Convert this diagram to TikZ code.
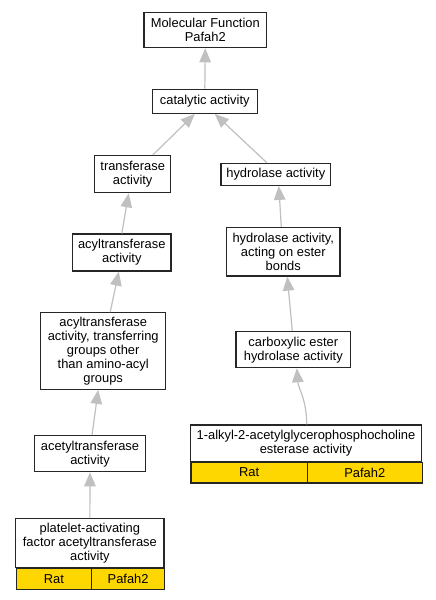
\documentclass[tikz,border=0pt]{standalone}
\usepackage{fontspec}
\setmainfont{Liberation Sans}
\usetikzlibrary{arrows.meta}
\definecolor{gold}{HTML}{FFD700}
\definecolor{edgegray}{HTML}{C0C0C0}
\tikzset{
  box/.style={draw=black!85, line width=1.2pt, fill=white, inner sep=0pt, align=center,
    font=\fontsize{12.9}{14}\selectfont},
  cell/.style={draw=black!85, line width=1.2pt, fill=gold, inner sep=0pt, align=center,
    anchor=north west, font=\fontsize{12.9}{14}\selectfont},
  edge/.style={draw=edgegray, line width=1.2pt, -{Triangle[length=14pt,width=11.5pt]}, edgegray}
}
\begin{document}
\begin{tikzpicture}[x=1pt,y=-1pt]
\useasboundingbox[fill=white] (0,0) rectangle (436,600);
\node[box, minimum width=122.7pt, minimum height=35.4pt] (mf) at (205.3,30) {Molecular Function\\Pafah2};
\node[box, minimum width=105pt, minimum height=24pt] (cat) at (204.8,101.3) {catalytic activity};
\node[box, minimum width=76pt, minimum height=37pt] (trans) at (132.7,174.2) {transferase\\activity};
\node[box, minimum width=109.7pt, minimum height=22pt] (hyd) at (275.8,174.3) {hydrolase activity};
\node[box, minimum width=98.3pt, minimum height=37pt] (acyl) at (121.8,252.5) {acyltransferase\\activity};
\node[box, minimum width=113.3pt, minimum height=48.7pt] (ester) at (283.3,251.7) {hydrolase activity,\\acting on ester\\bonds};
\node[box, minimum width=125pt, minimum height=76.6pt] (acyltr) at (103.2,351) {acyltransferase\\activity, transferring\\groups other\\than amino-acyl\\groups};
\node[box, minimum width=114.7pt, minimum height=36pt] (carb) at (293.3,349.7) {carboxylic ester\\hydrolase activity};
\node[box, minimum width=110.6pt, minimum height=36pt] (acet) at (90,453.7) {acetyltransferase\\activity};
% 1-alkyl node
\node[box, minimum width=231.4pt, minimum height=36.7pt] (alk) at (306,443.35) {1-alkyl-2-acetylglycerophosphocholine\\esterase activity};
\node[cell, minimum width=116.4pt, minimum height=20.6pt] (alkrat) at (190.3,461.7) {Rat};
\node[cell, minimum width=115pt, minimum height=20.6pt] (alkgene) at (306.7,461.7) {Pafah2};
% platelet node
\node[box, minimum width=148.3pt, minimum height=49pt] (plat) at (89.85,543.2) {platelet-activating\\factor acetyltransferase\\activity};
\node[cell, minimum width=75.3pt, minimum height=21.3pt] (platrat) at (15.7,567.7) {Rat};
\node[cell, minimum width=73pt, minimum height=21.3pt] (platgene) at (91,567.7) {Pafah2};
% edges
\draw[edge] (cat.north) -- (mf.south);
\draw[edge] ([xshift=20pt]trans.north) -- ([xshift=-10pt]cat.south);
\draw[edge] ([xshift=-9pt]hyd.north) -- ([xshift=10pt]cat.south);
\draw[edge] (acyl.north) -- ([xshift=-4pt]trans.south);
\draw[edge] ([xshift=-2pt]ester.north) -- ([xshift=3pt]hyd.south);
\draw[edge] ([xshift=7pt]acyltr.north) -- ([xshift=-3pt]acyl.south);
\draw[edge] ([xshift=-1pt]carb.north) -- ([xshift=4pt]ester.south);
\draw[edge] ([xshift=2pt]acet.north) -- ([xshift=-5pt]acyltr.south);
\draw[edge] ([xshift=0.7pt]alk.north) .. controls ([xshift=0.7pt,yshift=25pt]alk.north) and ([xshift=5pt,yshift=-20pt]carb.south) .. ([xshift=3.5pt]carb.south);
\draw[edge] (plat.north) -- (acet.south);
\end{tikzpicture}
\end{document}
